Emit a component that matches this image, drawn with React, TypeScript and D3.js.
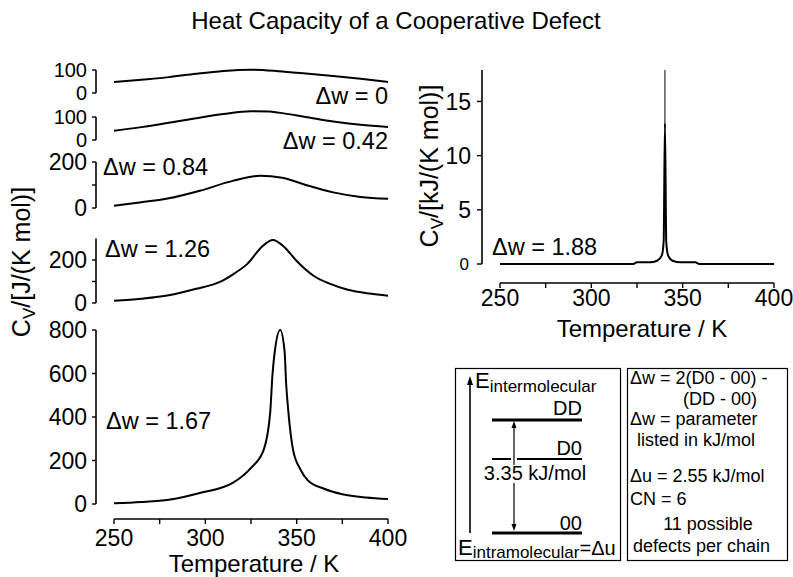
import React from "react";
import * as d3 from "d3";

const W = 793;
const H = 577;
const FONT = "'Liberation Sans', Arial, Helvetica, sans-serif";

// ---------- data ----------
const tempTicks = [250, 275, 300, 325, 350, 375, 400];
const tempLabels = [250, 300, 350, 400];

const dwLabels = ["Δw = 0", "Δw = 0.42", "Δw = 0.84", "Δw = 1.26", "Δw = 1.67", "Δw = 1.88"];

// Δw = 0   (J/(K mol))
const tDw0 = [250, 265, 280, 295, 310, 325, 340, 355, 370, 385, 400];
const cvDw0 = [48, 58, 69, 84, 96, 101, 95, 85, 74, 62, 48];
// Δw = 0.42
const tDw1 = [250, 265, 280, 295, 310, 325, 335, 340, 355, 370, 385, 400];
const cvDw1 = [40, 56, 75, 95, 113, 125, 124, 119, 100, 80, 66, 57];
// Δw = 0.84
const tDw2 = [250, 265, 280, 297, 315, 330, 342, 355, 370, 385, 400];
const cvDw2 = [10, 25, 42, 75, 118, 140, 132, 100, 68, 48, 40];
// Δw = 1.26
const tDw3 = [250, 265, 280, 295, 308, 316, 323, 331, 337, 343, 350, 359, 368, 378, 390, 400];
const cvDw3 = [10, 20, 36, 66, 98, 138, 182, 262, 293, 262, 195, 128, 90, 62, 44, 34];
// Δw = 1.67
const tDw4 = [250, 265, 280, 297, 315, 325, 332, 335.5, 336.8, 338, 341, 343.4, 344.2, 345.5, 348, 352, 356, 365, 375, 388, 400];
const cvDw4 = [3, 9, 20, 51, 97, 166, 250, 420, 600, 700, 800, 700, 560, 420, 250, 160, 110, 70, 45, 30, 23];
// Δw = 1.88  (kJ/(K mol))
const tDw5 = [250, 323, 325, 332, 336, 338.6, 339.6, 340.3, 341, 342, 344.5, 349, 357, 359, 400];
const cvDw5 = [0, 0, 0.15, 0.15, 0.3, 0.8, 2.1, 13, 2.1, 0.8, 0.3, 0.15, 0.15, 0, 0];
const tDw5Spike = [340.3, 340.3];
const cvDw5Spike = [13, 17.9];

const leftTicks1 = [0, 100];
const leftTicks2 = [0, 100];
const leftTicks3 = [0, 100, 200];
const leftLabels3 = [0, 200];
const leftTicks4 = [0, 100, 200];
const leftLabels4 = [0, 200];
const leftTicks5 = [0, 200, 400, 600, 800];
const rightTicks = [0, 5, 10, 15];

const boxLines = [
  "Δw = 2(D0 - 00) -",
  "(DD - 00)",
  "Δw = parameter",
  "listed in kJ/mol",
  "Δu = 2.55 kJ/mol",
  "CN = 6",
  "11 possible",
  "defects per chain",
];

// ---------- layout ----------
const xL = d3.scaleLinear().domain([250, 400]).range([114, 388]);
const xR = d3.scaleLinear().domain([250, 400]).range([500, 774]);
const AXL = 96;
const AXR = 482;
const TICK_FS = 23;
const LBL_FS = 23.5;
const BOX_FS = 18;

const panels = [
  { t: tDw0, v: cvDw0, y: d3.scaleLinear().domain([0, 100]).range([93, 70]), top: 100, ticks: leftTicks1, labels: leftTicks1, fs: 20 },
  { t: tDw1, v: cvDw1, y: d3.scaleLinear().domain([0, 100]).range([140, 117]), top: 100, ticks: leftTicks2, labels: leftTicks2, fs: 20 },
  { t: tDw2, v: cvDw2, y: d3.scaleLinear().domain([0, 200]).range([208, 162]), top: 200, ticks: leftTicks3, labels: leftLabels3, fs: TICK_FS },
  { t: tDw3, v: cvDw3, y: d3.scaleLinear().domain([0, 300]).range([303, 238.5]), top: 300, ticks: leftTicks4, labels: leftLabels4, fs: TICK_FS },
  { t: tDw4, v: cvDw4, y: d3.scaleLinear().domain([0, 800]).range([504, 330]), top: 800, ticks: leftTicks5, labels: leftTicks5, fs: TICK_FS },
];

const yR = d3.scaleLinear().domain([0, 17.9]).range([264, 70]);

function pathFor(t: number[], v: number[], x: any, y: any, curve: any = d3.curveMonotoneX) {
  const pts: [number, number][] = t.map((tt, i) => [tt, v[i]]);
  return d3
    .line<[number, number]>()
    .x((d) => x(d[0]))
    .y((d) => y(d[1]))
    .curve(curve)(pts) as string;
}

const dwPos = [
  { x: 388, y: 104, anchor: "end" },
  { x: 388, y: 149, anchor: "end" },
  { x: 103, y: 175, anchor: "start" },
  { x: 105, y: 257, anchor: "start" },
  { x: 106, y: 429, anchor: "start" },
];

export default function App() {
  return (
    <svg
      width={W}
      height={H}
      viewBox={`0 0 ${W} ${H}`}
      style={{ position: "absolute", left: 0, top: 0, background: "#fff" }}
      fontFamily={FONT}
    >
      <rect x={0} y={0} width={W} height={H} fill="#fff" />
      <text x={396} y={29} textAnchor="middle" fontSize={24}>
        Heat Capacity of a Cooperative Defect
      </text>

      {/* left stacked panels */}
      {panels.map((p, i) => (
        <g key={i}>
          <line x1={AXL} x2={AXL} y1={p.y(0)} y2={p.y(p.top)} stroke="#000" strokeWidth={1.6} />
          {p.ticks.map((tk) => (
            <line key={tk} x1={AXL - 4} x2={AXL} y1={p.y(tk)} y2={p.y(tk)} stroke="#000" strokeWidth={1.4} />
          ))}
          {p.labels.map((tk) => (
            <text key={tk} x={AXL - 9} y={p.y(tk)} dy="0.36em" textAnchor="end" fontSize={p.fs}>
              {tk}
            </text>
          ))}
          <path d={pathFor(p.t, p.v, xL, p.y)} fill="none" stroke="#000" strokeWidth={2} />
          <text x={dwPos[i].x} y={dwPos[i].y} textAnchor={dwPos[i].anchor as any} fontSize={LBL_FS}>
            {dwLabels[i]}
          </text>
        </g>
      ))}

      {/* left x axis */}
      <line x1={xL(250)} x2={xL(400)} y1={519} y2={519} stroke="#000" strokeWidth={1.6} />
      {tempTicks.map((t) => (
        <line key={t} x1={xL(t)} x2={xL(t)} y1={519} y2={524} stroke="#000" strokeWidth={1.4} />
      ))}
      {tempLabels.map((t) => (
        <text key={t} x={xL(t)} y={546} textAnchor="middle" fontSize={TICK_FS}>
          {t}
        </text>
      ))}
      <text x={254} y={572} textAnchor="middle" fontSize={24}>
        Temperature / K
      </text>
      <text transform="translate(30,262) rotate(-90)" textAnchor="middle" fontSize={25}>
        C<tspan fontSize={17} dy={5}>V</tspan>
        <tspan dy={-5}>/[J/(K mol)]</tspan>
      </text>

      {/* right panel */}
      <line x1={AXR} x2={AXR} y1={yR(0)} y2={yR(17.9)} stroke="#000" strokeWidth={1.6} />
      {rightTicks.map((tk) => (
        <line key={tk} x1={AXR - 5} x2={AXR} y1={yR(tk)} y2={yR(tk)} stroke="#000" strokeWidth={1.4} />
      ))}
      {rightTicks.map((tk) => (
        <text
          key={tk}
          x={tk === 0 ? AXR - 13 : AXR - 11}
          y={yR(tk)}
          dy="0.36em"
          textAnchor="end"
          fontSize={tk === 0 ? 17 : TICK_FS}
        >
          {tk}
        </text>
      ))}
      <path d={pathFor(tDw5, cvDw5, xR, yR, d3.curveMonotoneX)} fill="none" stroke="#000" strokeWidth={2} />
      <path d={pathFor(tDw5Spike, cvDw5Spike, xR, yR, d3.curveLinear)} fill="none" stroke="#000" strokeWidth={1} />
      <text x={492} y={255} fontSize={LBL_FS}>
        {dwLabels[5]}
      </text>
      <line x1={xR(250)} x2={xR(400)} y1={283} y2={283} stroke="#000" strokeWidth={1.6} />
      {tempTicks.map((t) => (
        <line key={t} x1={xR(t)} x2={xR(t)} y1={283} y2={288} stroke="#000" strokeWidth={1.4} />
      ))}
      {tempLabels.map((t) => (
        <text key={t} x={xR(t)} y={306} textAnchor="middle" fontSize={TICK_FS}>
          {t}
        </text>
      ))}
      <text x={642} y={337} textAnchor="middle" fontSize={24}>
        Temperature / K
      </text>
      <text transform="translate(438,166) rotate(-90)" textAnchor="middle" fontSize={25}>
        C<tspan fontSize={17} dy={5}>V</tspan>
        <tspan dy={-5}>/[kJ/(K mol)]</tspan>
      </text>

      {/* energy level box */}
      <rect x={455.5} y={368.5} width={165} height={192} fill="none" stroke="#000" strokeWidth={1.2} />
      <line x1={470} x2={470} y1={533} y2={382} stroke="#000" strokeWidth={1.6} />
      <polygon points="470,376 467,385 473,385" fill="#000" />
      <text x={475} y={388} fontSize={22}>
        E<tspan fontSize={17} dy={4}>intermolecular</tspan>
      </text>
      <text x={582} y={415} textAnchor="end" fontSize={20}>DD</text>
      <line x1={492} x2={582} y1={420} y2={420} stroke="#000" strokeWidth={3} />
      <text x={582} y={455} textAnchor="end" fontSize={20}>D0</text>
      <line x1={492} x2={511} y1={459} y2={459} stroke="#000" strokeWidth={2} />
      <line x1={517} x2={582} y1={459} y2={459} stroke="#000" strokeWidth={2} />
      <line x1={514} x2={514} y1={424} y2={465} stroke="#000" strokeWidth={1.2} />
      <line x1={514} x2={514} y1={483} y2={528} stroke="#000" strokeWidth={1.2} />
      <polygon points="514,421 511.5,428 516.5,428" fill="#000" />
      <polygon points="514,531 511.5,524 516.5,524" fill="#000" />
      <text x={535} y={480} textAnchor="middle" fontSize={20}>3.35 kJ/mol</text>
      <text x={582} y={530} textAnchor="end" fontSize={20}>00</text>
      <line x1={492} x2={582} y1={533} y2={533} stroke="#000" strokeWidth={3} />
      <text x={458} y={555} fontSize={22}>
        E<tspan fontSize={17} dy={3}>intramolecular</tspan>
        <tspan fontSize={20} dy={-3}>=Δu</tspan>
      </text>

      {/* description box */}
      <rect x={627.5} y={368.5} width={160} height={192} fill="none" stroke="#000" strokeWidth={1.2} />
      <text x={630} y={384} fontSize={BOX_FS}>{boxLines[0]}</text>
      <text x={720} y={405} textAnchor="middle" fontSize={BOX_FS}>{boxLines[1]}</text>
      <text x={630} y={425} fontSize={BOX_FS}>{boxLines[2]}</text>
      <text x={637} y={446} fontSize={BOX_FS}>{boxLines[3]}</text>
      <text x={630} y={482} fontSize={BOX_FS}>{boxLines[4]}</text>
      <text x={630} y={505} fontSize={BOX_FS}>{boxLines[5]}</text>
      <text x={708} y={530} textAnchor="middle" fontSize={BOX_FS}>{boxLines[6]}</text>
      <text x={633} y={552} fontSize={BOX_FS}>{boxLines[7]}</text>
    </svg>
  );
}
